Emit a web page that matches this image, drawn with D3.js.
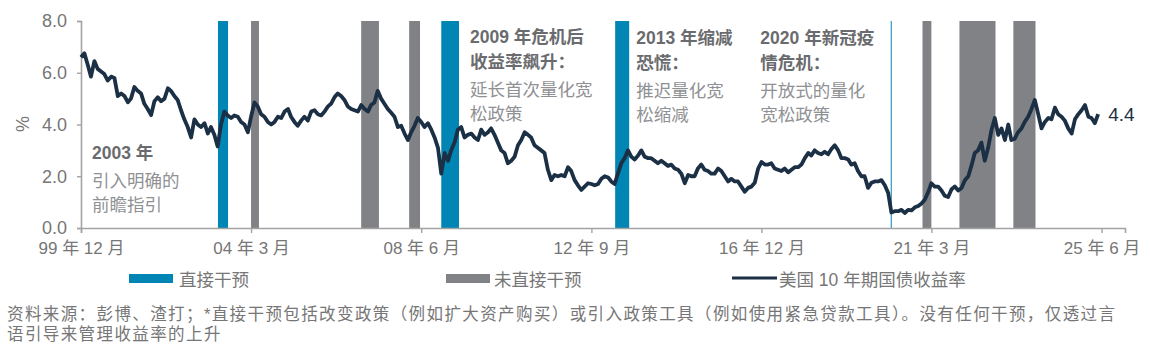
<!DOCTYPE html>
<html>
<head>
<meta charset="utf-8">
<script src="https://cdn.jsdelivr.net/npm/d3@7"></script>
<style>
  html, body { margin: 0; padding: 0; background: #ffffff; }
  svg { display: block; }
  text { font-family: "Liberation Sans", Arial, "Noto Sans CJK SC", sans-serif; }
</style>
</head>
<body>
<svg id="chart" width="1150" height="352"></svg>
<script>
// ---------------- data ----------------
// US 10-year treasury yield (%), monthly, first value = Dec 1999
const yieldStart = "1999-12-01";
const yields = [
  6.6,
  6.75, 6.3, 5.85, 6.45, 6.15, 6.05, 5.95, 5.7, 5.85, 5.8, 5.1, 5.2,        // 2000
  5.1, 4.86, 5.0, 5.45, 5.3, 5.2, 4.8, 4.6, 4.36, 4.9, 5.05, 4.9,         // 2001
  5.0, 5.4, 5.3, 5.1, 4.95, 4.55, 4.2, 3.9, 3.5, 4.2, 4.0, 3.9,           // 2002
  4.05, 3.65, 3.9, 3.6, 3.15, 4.0, 4.5, 4.35, 4.25, 4.35, 4.3, 4.1,       // 2003
  4.0, 3.7, 4.3, 4.85, 4.7, 4.4, 4.3, 4.1, 4.0, 4.1, 4.3, 4.25,           // 2004
  4.5, 4.6, 4.3, 4.1, 3.95, 4.15, 4.3, 4.15, 4.5, 4.55, 4.4, 4.35,        // 2005
  4.5, 4.7, 4.8, 5.05, 5.2, 5.1, 4.95, 4.7, 4.6, 4.55, 4.5, 4.75,         // 2006
  4.6, 4.5, 4.75, 4.85, 5.3, 5.0, 4.8, 4.6, 4.45, 4.3, 3.9, 3.95,         // 2007
  3.65, 3.4, 3.7, 3.95, 4.25, 4.1, 3.9, 4.05, 3.8, 3.5, 3.1, 2.1,         // 2008
  2.9, 2.6, 3.0, 3.3, 3.8, 3.9, 3.5, 3.6, 3.65, 3.5, 3.4, 3.8,            // 2009
  3.6, 3.7, 3.85, 3.6, 3.3, 3.0, 2.9, 2.5, 2.6, 2.75, 3.2, 3.4,           // 2010
  3.7, 3.6, 3.5, 3.2, 3.1, 3.0, 2.9, 2.25, 1.85, 2.05, 2.0, 2.05,         // 2011
  2.0, 2.35, 2.2, 1.85, 1.65, 1.47, 1.6, 1.73, 1.7, 1.65, 1.7, 1.9,       // 2012
  2.0, 1.95, 1.8, 1.7, 2.1, 2.5, 2.7, 3.0, 2.75, 2.65, 2.8, 3.0,          // 2013
  2.75, 2.7, 2.7, 2.6, 2.5, 2.6, 2.5, 2.4, 2.45, 2.3, 2.25, 2.1,          // 2014
  1.73, 2.05, 2.0, 2.0, 2.3, 2.45, 2.25, 2.2, 2.1, 2.1, 2.3, 2.2,         // 2015
  2.0, 1.8, 1.9, 1.8, 1.8, 1.6, 1.4, 1.55, 1.6, 1.75, 2.3, 2.55,          // 2016
  2.45, 2.45, 2.5, 2.3, 2.25, 2.2, 2.3, 2.15, 2.25, 2.35, 2.35, 2.45,     // 2017
  2.7, 2.9, 2.8, 3.0, 2.9, 2.85, 2.95, 2.85, 3.05, 3.2, 3.0, 2.7,         // 2018
  2.7, 2.65, 2.45, 2.5, 2.2, 2.0, 2.0, 1.55, 1.75, 1.8, 1.8, 1.85,        // 2019
  1.65, 1.35, 0.6, 0.65, 0.65, 0.7, 0.58, 0.7, 0.68, 0.8, 0.85, 0.95,     // 2020
  1.1, 1.4, 1.73, 1.6, 1.6, 1.45, 1.25, 1.2, 1.5, 1.6, 1.45, 1.55,        // 2021
  1.85, 2.0, 2.4, 2.9, 3.0, 3.3, 2.6, 3.1, 3.8, 4.25, 3.6, 3.85,          // 2022
  3.4, 4.0, 3.4, 3.45, 3.7, 3.85, 4.1, 4.3, 4.6, 4.95, 4.4, 3.85,         // 2023
  4.1, 4.25, 4.2, 4.65, 4.4, 4.3, 4.15, 3.85, 3.65, 4.2, 4.4, 4.55,       // 2024
  4.75, 4.3, 4.25, 4.05, 4.4                                              // 2025
];
const lastLabel = "4.4";

// intervention periods
const directPeriods = [
  ["2003-05-04", "2003-08-04"],
  ["2008-12-01", "2009-05-12"],
  ["2013-04-06", "2013-08-12"],
  ["2020-02-24", "2020-03-04"]
];
const indirectPeriods = [
  ["2004-03-01", "2004-05-12"],
  ["2006-12-01", "2007-05-12"],
  ["2008-02-12", "2008-05-21"],
  ["2020-12-10", "2021-03-01"],
  ["2021-11-12", "2022-10-07"],
  ["2023-03-19", "2023-10-07"]
];

// axes
const xTickDates = ["1999-12-01", "2004-03-01", "2008-06-01", "2012-09-01", "2016-12-01", "2021-03-01", "2025-06-01"];
const xTickLabels = ["99 年 12 月", "04 年 3 月", "08 年 6 月", "12 年 9 月", "16 年 12 月", "21 年 3 月", "25 年 6 月"];
const yTicks = [0, 2, 4, 6, 8];
const yLabel = "%";

// annotations: [anchor date, bold lines, regular lines]
const annotations = [
  { date: "2000-03-10", bold: ["2003 年"], normal: ["引入明确的", "前瞻指引"], top: 153 },
  { date: "2009-08-20", bold: ["2009 年危机后", "收益率飙升："], normal: ["延长首次量化宽", "松政策"], top: 37 },
  { date: "2013-10-15", bold: ["2013 年缩减", "恐慌："], normal: ["推迟量化宽", "松缩减"], top: 38 },
  { date: "2016-11-21", bold: ["2020 年新冠疫", "情危机："], normal: ["开放式的量化", "宽松政策"], top: 38 }
];

const legendItems = ["直接干预", "未直接干预", "美国 10 年期国债收益率"];
const footnoteLines = [
  "资料来源：彭博、渣打；*直接干预包括改变政策（例如扩大资产购买）或引入政策工具（例如使用紧急贷款工具）。没有任何干预，仅透过言",
  "语引导来管理收益率的上升"
];

// ---------------- drawing ----------------
const BLUE = "#0085b4", GREY = "#808285", NAVY = "#1b2f45";
const AXIS = "#a3a3a3", LABEL = "#767676", BOLDTXT = "#6a6b6e", NORMTXT = "#8f9194";

const parse = d3.timeParse("%Y-%m-%d");
const svg = d3.select("#chart");

const x = d3.scaleTime()
  .domain([parse("1999-12-01"), parse("2026-01-01")])
  .range([81, 1125]);
const y = d3.scaleLinear().domain([0, 8]).range([228, 21]);

const start = parse(yieldStart);
const series = yields.map((v, i) => ({ date: d3.timeMonth.offset(start, i), value: v }));

// bars
const gBars = svg.append("g");
gBars.selectAll("rect.ind").data(indirectPeriods).join("rect")
  .attr("x", d => x(parse(d[0])))
  .attr("width", d => Math.max(1, x(parse(d[1])) - x(parse(d[0]))))
  .attr("y", y(8)).attr("height", y(0) - y(8))
  .attr("fill", GREY);
gBars.selectAll("rect.dir").data(directPeriods).join("rect")
  .attr("x", d => x(parse(d[0])))
  .attr("width", d => Math.max(1, x(parse(d[1])) - x(parse(d[0]))))
  .attr("y", y(8)).attr("height", y(0) - y(8))
  .attr("fill", BLUE);

// axes
const yAxis = svg.append("g").attr("transform", "translate(81,0)")
  .call(d3.axisLeft(y).tickValues(yTicks).tickFormat(d3.format(".1f")).tickSize(4).tickPadding(10));
const xAxis = svg.append("g").attr("transform", "translate(0,228)")
  .call(d3.axisBottom(x).tickValues(xTickDates.map(parse))
    .tickFormat((d, i) => xTickLabels[i]).tickSize(5).tickPadding(9));
[yAxis, xAxis].forEach(g => {
  g.select(".domain").attr("stroke", AXIS).attr("stroke-width", 1.6);
  g.selectAll(".tick line").attr("stroke", AXIS).attr("stroke-width", 1.4);
  g.selectAll(".tick text").attr("fill", LABEL)
    .style("font-family", '"Liberation Sans", Arial, "Noto Sans CJK SC", sans-serif');
});
yAxis.selectAll(".tick text").style("font-size", "18px");
xAxis.selectAll(".tick text").style("font-size", "17px");

svg.append("text")
  .attr("transform", "translate(29,124) rotate(-90)")
  .attr("text-anchor", "middle")
  .attr("fill", LABEL).style("font-size", "18px").text(yLabel);

// line
const line = d3.line().x(d => x(d.date)).y(d => y(d.value));
svg.append("path").datum(series)
  .attr("d", line).attr("fill", "none")
  .attr("stroke", NAVY).attr("stroke-width", 3.8).attr("stroke-linejoin", "round");

const last = series[series.length - 1];
svg.append("text")
  .attr("x", x(last.date) + 10).attr("y", y(last.value)).attr("dy", "0.35em")
  .attr("fill", NAVY).style("font-size", "19px").text(lastLabel);

// annotations
annotations.forEach(a => {
  const ax = x(parse(a.date));
  let yy = a.top;
  a.bold.forEach(t => {
    svg.append("text").attr("x", ax).attr("y", yy).attr("dy", "0.35em")
      .attr("fill", BOLDTXT).style("font-size", "17.5px").style("font-weight", "bold").text(t);
    yy += 25;
  });
  yy += 3;
  a.normal.forEach(t => {
    svg.append("text").attr("x", ax).attr("y", yy).attr("dy", "0.35em")
      .attr("fill", NORMTXT).style("font-size", "17.5px").text(t);
    yy += 24;
  });
});

// legend
const lg = svg.append("g");
lg.append("rect").attr("x", 129).attr("y", 274).attr("width", 44).attr("height", 9).attr("fill", BLUE);
lg.append("text").attr("x", 179).attr("y", 280).attr("dy", "0.35em").attr("fill", LABEL)
  .style("font-size", "17.5px").text(legendItems[0]);
lg.append("rect").attr("x", 446).attr("y", 274).attr("width", 44).attr("height", 9).attr("fill", GREY);
lg.append("text").attr("x", 494).attr("y", 280).attr("dy", "0.35em").attr("fill", LABEL)
  .style("font-size", "17.5px").text(legendItems[1]);
lg.append("line").attr("x1", 732).attr("x2", 777).attr("y1", 278).attr("y2", 278)
  .attr("stroke", NAVY).attr("stroke-width", 3);
lg.append("text").attr("x", 779).attr("y", 280).attr("dy", "0.35em").attr("fill", LABEL)
  .style("font-size", "17.5px").text(legendItems[2]);

// footnote
footnoteLines.forEach((t, i) => {
  svg.append("text").attr("x", 7).attr("y", 314 + i * 20).attr("dy", "0.35em")
    .attr("fill", LABEL).style("font-size", "16.5px").style("letter-spacing", "1.4px").text(t);
});
</script>
</body>
</html>
